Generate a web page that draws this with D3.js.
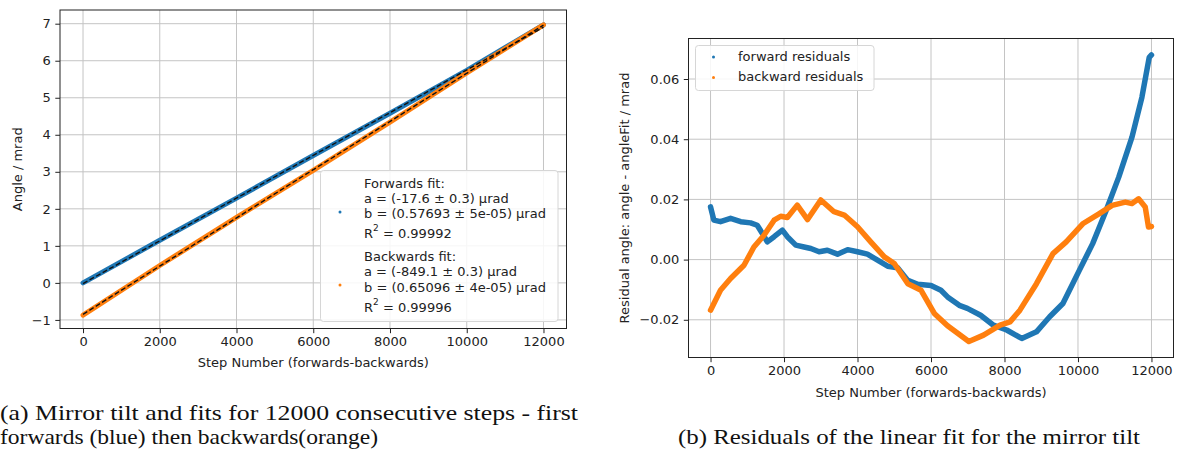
<!DOCTYPE html>
<html>
<head>
<meta charset="utf-8">
<script src="https://cdn.jsdelivr.net/npm/d3@7"></script>
<style>
  body { margin: 0; background: #fff; }
  svg { display: block; }
  .tick text { font-family: "DejaVu Sans", sans-serif; font-size: 13px; fill: #222; }
</style>
</head>
<body>
<div id="chart"></div>
<script>
// ---- data ----
const stepTicks = [0, 2000, 4000, 6000, 8000, 10000, 12000];
const angleTicks = [-1, 0, 1, 2, 3, 4, 5, 6, 7];
const residTicks = [-0.02, 0.00, 0.02, 0.04, 0.06];

// (a) measured angle, mrad
const angleStep = [0, 2000, 4000, 6000, 8000, 10000, 12000];
const fwdAngle = [0.00, 1.15, 2.29, 3.44, 4.58, 5.74, 6.97];
const bwdAngle = [-0.87, 0.47, 1.77, 3.04, 4.34, 5.67, 6.97];
// fit lines (from legend a, b)
const fitStep = [0, 12000];
const fwdFit = [-0.018, 6.905];
const bwdFit = [-0.849, 6.963];

// (b) residuals, mrad
const fwdStep = [0, 90, 270, 545, 820, 1090, 1270, 1410, 1545, 1730, 1955, 2090, 2320, 2545, 2730, 2955, 3180, 3455, 3730, 4000,
  4270, 4545, 4820, 5090, 5370, 5640, 6000, 6270, 6450, 6770, 6990, 7350, 7700, 8060, 8470, 8870, 9230, 9590, 10040, 10400,
  10750, 11110, 11470, 11740, 11940, 12000];
const fwdRes = [0.0175, 0.0131, 0.0126, 0.0137, 0.0126, 0.0122, 0.0114, 0.0087, 0.0059, 0.0076, 0.0098, 0.0076, 0.0048, 0.0042, 0.0037, 0.0026, 0.0031, 0.0018, 0.0033, 0.0026,
  0.0018, -0.0002, -0.0022, -0.0027, -0.0069, -0.0082, -0.0086, -0.0102, -0.0124, -0.0152, -0.0162, -0.0185, -0.0218, -0.0234, -0.0262, -0.0240, -0.0190, -0.0146, -0.0035, 0.0053,
  0.0158, 0.0274, 0.0407, 0.0539, 0.0672, 0.068];
const bwdStep = [0, 270, 545, 910, 1180, 1455, 1730, 1910, 2090, 2360, 2640, 3000, 3360, 3640, 4000, 4360, 4730, 5000, 5370, 5730,
  6090, 6450, 7030, 7430, 7880, 8150, 8420, 8870, 9320, 9680, 10130, 10570, 10930, 11290, 11470, 11650, 11830, 11920, 12000];
const bwdRes = [-0.0168, -0.0102, -0.0063, -0.0019, 0.0042, 0.0081, 0.0131, 0.0144, 0.0140, 0.0181, 0.0133, 0.0198, 0.0159, 0.0148, 0.0109, 0.0059, 0.0009, -0.0013, -0.0080, -0.0102,
  -0.0179, -0.0220, -0.0272, -0.0251, -0.0218, -0.0207, -0.0168, -0.0080, 0.0020, 0.0059, 0.0119, 0.0152, 0.0180, 0.0191, 0.0186, 0.0202, 0.0175, 0.0108, 0.011];

const BLUE = '#1f77b4', ORANGE = '#ff7f0e';
const FONT = '"DejaVu Sans", sans-serif';
const minus = s => s.replace('-', '\u2212');

const svg = d3.select('#chart').append('svg')
  .attr('width', 1178).attr('height', 455);

// draws frame, grid and ticks, returns scales
function panel(box, xDom, yDom, yTicks, yFmt) {
  const x = d3.scaleLinear().domain(xDom).range([box.left, box.right]);
  const y = d3.scaleLinear().domain(yDom).range([box.bottom, box.top]);
  const g = svg.append('g');

  // grid
  g.selectAll('.gx').data(stepTicks).enter().append('line')
    .attr('x1', d => x(d)).attr('x2', d => x(d))
    .attr('y1', box.top).attr('y2', box.bottom)
    .attr('stroke', '#c4c4c4').attr('stroke-width', 1);
  g.selectAll('.gy').data(yTicks).enter().append('line')
    .attr('y1', d => y(d)).attr('y2', d => y(d))
    .attr('x1', box.left).attr('x2', box.right)
    .attr('stroke', '#c4c4c4').attr('stroke-width', 1);

  const xAxis = g.append('g').attr('transform', `translate(0,${box.bottom})`)
    .call(d3.axisBottom(x).tickValues(stepTicks).tickFormat(d3.format('d'))
      .tickSize(4.7).tickPadding(4).tickSizeOuter(0));
  const yAxis = g.append('g').attr('transform', `translate(${box.left},0)`)
    .call(d3.axisLeft(y).tickValues(yTicks).tickFormat(d => minus(yFmt(d)))
      .tickSize(4.7).tickPadding(4.5).tickSizeOuter(0));
  [xAxis, yAxis].forEach(a => {
    a.select('.domain').remove();
    a.selectAll('.tick line').attr('stroke', '#222').attr('stroke-width', 1);
    a.selectAll('.tick text').attr('fill', '#222');
  });

  return { x, y, g };
}

function frame(box) {
  svg.append('rect')
    .attr('x', box.left).attr('y', box.top)
    .attr('width', box.right - box.left).attr('height', box.bottom - box.top)
    .attr('fill', 'none').attr('stroke', '#222').attr('stroke-width', 1);
}

function label(x, y, txt, rot) {
  svg.append('text')
    .attr('transform', `translate(${x},${y})` + (rot ? ' rotate(-90)' : ''))
    .attr('text-anchor', 'middle').attr('dominant-baseline', 'central')
    .attr('font-family', FONT).attr('font-size', 13).attr('fill', '#222')
    .text(txt);
}

// ---------- (a) ----------
const boxA = { left: 60, right: 566.5, top: 10, bottom: 328.5 };
const A = panel(boxA, [-600, 12600], [-1.232, 7.37], angleTicks, d3.format('d'));

const lineA = (xs, ys) => d3.line().x((d, i) => A.x(xs[i])).y(d => A.y(d))(ys);
A.g.append('path').attr('d', lineA(angleStep, fwdAngle))
  .attr('fill', 'none').attr('stroke', BLUE).attr('stroke-width', 5).attr('stroke-linecap', 'round');
A.g.append('path').attr('d', lineA(angleStep, bwdAngle))
  .attr('fill', 'none').attr('stroke', ORANGE).attr('stroke-width', 5).attr('stroke-linecap', 'round');
[fwdFit, bwdFit].forEach(f => {
  A.g.append('path').attr('d', lineA(fitStep, f))
    .attr('fill', 'none').attr('stroke', '#111').attr('stroke-width', 1.4)
    .attr('stroke-dasharray', '5,2.5');
});
frame(boxA);

label(17, (boxA.top + boxA.bottom) / 2, 'Angle / mrad', true);
label((boxA.left + boxA.right) / 2, 362, 'Step Number (forwards-backwards)');

// legend (a)
const legA = svg.append('g');
legA.append('rect').attr('x', 320.5).attr('y', 170.5).attr('width', 237.5).attr('height', 151)
  .attr('rx', 3).attr('fill', 'rgba(255,255,255,0.85)').attr('stroke', '#d6d6d6');
const legLines = [
  { t: 'Forwards fit:', y: 182.5 },
  { t: 'a = (-17.6 \u00b1 0.3) \u00b5rad', y: 198 },
  { t: 'b = (0.57693 \u00b1 5e-05) \u00b5rad', y: 213 },
  { t: 'R', sup: '2', rest: ' = 0.99992', y: 233 },
  { t: 'Backwards fit:', y: 256 },
  { t: 'a = (-849.1 \u00b1 0.3) \u00b5rad', y: 271 },
  { t: 'b = (0.65096 \u00b1 4e-05) \u00b5rad', y: 286.5 },
  { t: 'R', sup: '2', rest: ' = 0.99996', y: 306.5 }
];
legLines.forEach(l => {
  const t = legA.append('text').attr('x', 364).attr('y', l.y)
    .attr('dominant-baseline', 'central')
    .attr('font-family', FONT).attr('font-size', 13).attr('fill', '#222');
  t.append('tspan').text(l.t);
  if (l.sup) {
    t.append('tspan').attr('dy', -5).attr('font-size', 9).text(l.sup);
    t.append('tspan').attr('dy', 5).text(l.rest);
  }
});
legA.append('circle').attr('cx', 340).attr('cy', 212).attr('r', 1.5).attr('fill', BLUE);
legA.append('circle').attr('cx', 340).attr('cy', 285).attr('r', 1.5).attr('fill', ORANGE);

// ---------- (b) ----------
const boxB = { left: 688.5, right: 1173.5, top: 38.5, bottom: 357.5 };
const B = panel(boxB, [-600, 12600], [-0.03253, 0.07346], residTicks, d3.format('.2f'));

const lineB = (xs, ys) => d3.line().x((d, i) => B.x(xs[i])).y(d => B.y(d))(ys);
B.g.append('path').attr('d', lineB(fwdStep, fwdRes))
  .attr('fill', 'none').attr('stroke', BLUE).attr('stroke-width', 5.5)
  .attr('stroke-linejoin', 'round').attr('stroke-linecap', 'round');
B.g.append('path').attr('d', lineB(bwdStep, bwdRes))
  .attr('fill', 'none').attr('stroke', ORANGE).attr('stroke-width', 5.5)
  .attr('stroke-linejoin', 'round').attr('stroke-linecap', 'round');
frame(boxB);

label(624, (boxB.top + boxB.bottom) / 2, 'Residual angle: angle - angleFit / mrad', true);
label((boxB.left + boxB.right) / 2, 392, 'Step Number (forwards-backwards)');

// legend (b)
const legB = svg.append('g');
legB.append('rect').attr('x', 695.5).attr('y', 45.5).attr('width', 178.5).attr('height', 45)
  .attr('rx', 3).attr('fill', 'rgba(255,255,255,0.85)').attr('stroke', '#d6d6d6');
[['forward residuals', BLUE, 56], ['backward residuals', ORANGE, 76.5]].forEach(([t, c, yy]) => {
  legB.append('circle').attr('cx', 713.5).attr('cy', yy + 1).attr('r', 1.5).attr('fill', c);
  legB.append('text').attr('x', 738).attr('y', yy)
    .attr('dominant-baseline', 'central')
    .attr('font-family', FONT).attr('font-size', 13).attr('fill', '#222').text(t);
});

// ---------- captions ----------
const cap = (x, y, t, len) => {
  svg.append('text').attr('x', x).attr('y', y)
    .attr('font-family', '"Liberation Serif", "Times New Roman", serif')
    .attr('font-size', 21).attr('fill', '#111')
    .attr('textLength', len).attr('lengthAdjust', 'spacingAndGlyphs')
    .text(t);
};
cap(0, 420, '(a) Mirror tilt and fits for 12000 consecutive steps - first', 578);
cap(0, 444, 'forwards (blue) then backwards(orange)', 378);
cap(678, 444, '(b) Residuals of the linear fit for the mirror tilt', 462);
</script>
</body>
</html>
